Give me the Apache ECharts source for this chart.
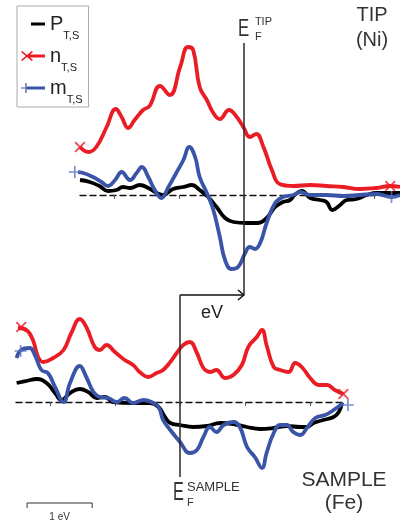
<!DOCTYPE html>
<html><head><meta charset="utf-8">
<script src="https://cdn.jsdelivr.net/npm/echarts@6/dist/echarts.min.js"></script>
<style>html,body{margin:0;padding:0;background:#fff}#c{width:400px;height:526px}</style>
</head><body><div id="c"></div>
<script>
// ---------- DATA (energy in eV relative to E_F, signal in arbitrary units) ----------
const tickValues = [-2, -1, 0, 1, 2];
const seriesNames = ['P', 'n', 'm'];
const subscriptText = 'T,S';
const scaleBarEV = [-2.35, -1.35];   // 1 eV scale bar, bottom panel

// TIP (Ni) panel
const tipP = [[-2.52,1.5],[-2.37,1.3],[-2.22,0.9],[-2.09,0.4],[-1.96,0.5],[-1.86,0.8],[-1.75,0.7],[-1.6,1.0],[-1.47,0.7],[-1.34,0.2],[-1.24,0],[-1.09,0.6],[-0.93,0.8],[-0.8,1.0],[-0.68,0.5],[-0.55,-0.2],[-0.42,-1.2],[-0.29,-2.3],[-0.16,-2.7],[0.04,-2.8],[0.22,-2.8],[0.35,-2.3],[0.48,-1.2],[0.6,-0.7],[0.71,-0.5],[0.78,0],[0.89,0.4],[1.02,-0.3],[1.17,-0.5],[1.27,-0.7],[1.36,-1.5],[1.48,-1.0],[1.58,-0.5],[1.73,-0.4],[1.89,0],[2.04,0.2],[2.25,0.2],[2.4,0.2]];
const tipN = [[-2.52,4.8],[-2.39,4.3],[-2.27,4.8],[-2.11,6.8],[-1.97,8.6],[-1.88,7.8],[-1.78,6.7],[-1.68,7.5],[-1.55,8.5],[-1.45,8.9],[-1.29,10.9],[-1.14,10.0],[-0.98,12.8],[-0.86,14.8],[-0.78,14.5],[-0.68,10.8],[-0.57,9.5],[-0.47,8.2],[-0.37,7.6],[-0.23,8.5],[-0.11,7.8],[0.0,6.7],[0.09,5.8],[0.19,6.1],[0.30,4.8],[0.43,2.5],[0.55,1.1],[0.76,0.9],[1.02,1.0],[1.27,0.9],[1.53,0.8],[1.78,0.6],[2.04,0.7],[2.25,0.9],[2.4,0.8]];
const tipM = [[-2.6,2.3],[-2.47,2.2],[-2.32,1.8],[-2.19,1.3],[-2.09,0.9],[-1.98,1.5],[-1.88,2.3],[-1.75,1.5],[-1.65,2.2],[-1.57,2.8],[-1.47,1.8],[-1.37,0.5],[-1.27,-0.3],[-1.16,0.8],[-1.04,2.2],[-0.93,3.5],[-0.84,4.8],[-0.75,3.8],[-0.68,1.8],[-0.57,0.2],[-0.47,-1.5],[-0.37,-4.2],[-0.29,-6.5],[-0.19,-7.4],[-0.09,-7.2],[0.02,-5.8],[0.09,-5.2],[0.17,-5.4],[0.25,-4.8],[0.35,-2.8],[0.48,-0.8],[0.6,-0.2],[0.76,0],[0.86,0.3],[1.02,0],[1.27,0],[1.53,-0.1],[1.78,0],[2.04,0.1],[2.27,-0.2],[2.4,0]];
const tipNMarkers = [[-2.52,4.8],[2.25,0.9]];
const tipMMarkers = [[-2.6,2.3],[2.27,-0.2]];

// SAMPLE (Fe) panel
const sampleP = [[-2.51,1.9],[-2.36,2.1],[-2.2,2.3],[-2.05,1.9],[-1.92,0.9],[-1.82,0.2],[-1.69,0.9],[-1.54,1.3],[-1.41,1.0],[-1.28,0.4],[-1.15,0.5],[-1.03,0],[-0.72,-0.1],[-0.46,-0.1],[-0.33,-0.5],[-0.23,-1.5],[-0.15,-2.1],[0,-2.3],[0.2,-2.5],[0.41,-2.4],[0.62,-2.1],[0.82,-2.2],[1.03,-2.5],[1.23,-2.7],[1.44,-2.6],[1.64,-2.4],[1.85,-2.5],[1.95,-2.5],[2.05,-2.1],[2.2,-1.8],[2.36,-1.5],[2.44,-1.0],[2.49,-0.1]];
const sampleN = [[-2.49,7.4],[-2.36,7.2],[-2.26,6.2],[-2.18,4.5],[-2.1,4.0],[-1.95,4.4],[-1.79,5.2],[-1.67,6.9],[-1.54,8.3],[-1.44,7.5],[-1.31,5.5],[-1.23,5.2],[-1.13,5.7],[-1.0,5.0],[-0.85,4.2],[-0.72,3.7],[-0.62,3.0],[-0.49,2.5],[-0.36,2.9],[-0.26,3.2],[-0.15,4.0],[-0.05,4.9],[0.05,5.7],[0.15,6.0],[0.26,4.9],[0.36,3.4],[0.46,3.0],[0.56,3.2],[0.69,2.4],[0.82,2.7],[0.95,3.7],[1.05,5.5],[1.18,6.5],[1.26,7.2],[1.33,5.7],[1.44,3.5],[1.54,3.2],[1.67,3.0],[1.77,3.9],[1.87,3.5],[2.0,2.4],[2.13,1.7],[2.26,1.7],[2.38,1.2],[2.51,0.8]];
const sampleM = [[-2.51,4.4],[-2.44,5.2],[-2.31,5.4],[-2.23,4.7],[-2.13,3.2],[-2.03,2.9],[-1.92,1.5],[-1.79,0],[-1.69,1.9],[-1.54,3.6],[-1.44,2.5],[-1.33,1.0],[-1.23,0.5],[-1.1,0.4],[-0.97,0],[-0.85,0.4],[-0.72,-0.1],[-0.56,0.2],[-0.44,0],[-0.33,-0.5],[-0.26,-1.8],[-0.15,-2.8],[0.0,-4.0],[0.15,-5.1],[0.26,-4.8],[0.36,-3.5],[0.46,-2.5],[0.56,-3.0],[0.67,-2.3],[0.82,-2.0],[0.92,-2.5],[1.03,-4.5],[1.15,-5.5],[1.26,-6.6],[1.33,-5.1],[1.44,-3.1],[1.54,-2.3],[1.64,-2.3],[1.74,-3.0],[1.85,-3.3],[1.95,-2.6],[2.08,-1.6],[2.23,-1.3],[2.36,-0.8],[2.51,-0.1]];
const sampleNMarkers = [[-2.44,7.5],[2.51,0.8]];
const sampleMMarkers = [[-2.45,5.1],[2.58,-0.3]];

// axis ranges
const TOP_X = [-2.52, 2.4], TOP_Y = [-10, 15.2];
const BOT_X = [-2.52, 2.52], BOT_Y = [-7.5, 10.7];

// ---------- STYLE ----------
const FONT = "'Liberation Sans', Arial, sans-serif";
const RED = '#ea1d25', BLUE = '#3a55a8', BLACK = '#000000', PLUSC = '#5a72c0', TXT = '#333333';
const CLEAR = 'rgba(0,0,0,0)';
const X_PATH = 'path://M0,1.2L1.2,0L5,3.8L8.8,0L10,1.2L6.2,5L10,8.8L8.8,10L5,6.2L1.2,10L0,8.8L3.8,5Z';
const PLUS_PATH = 'path://M4.3,0L5.7,0L5.7,4.3L10,4.3L10,5.7L5.7,5.7L5.7,10L4.3,10L4.3,5.7L0,5.7L0,4.3L4.3,4.3Z';
const ICON_P = 'path://M0,0L0.01,0L0,0.01ZM24,10L23.99,10L24,9.99ZM10,3.4L24,3.4L24,6.6L10,6.6Z';
const ICON_N = 'path://M24,10L23.99,10L24,9.99ZM0,1L1.2,0L6,4L10.8,0L12,1L7.2,5L12,9L10.8,10L6,6L1.2,10L0,9L4.8,5ZM6,3.6L24,3.6L24,6.4L6,6.4Z';
const ICON_M = 'path://M24,10L23.99,10L24,9.99ZM4.4,0L5.6,0L5.6,4.4L10,4.4L10,5.6L5.6,5.6L5.6,10L4.4,10L4.4,5.6L0,5.6L0,4.4L4.4,4.4ZM6,3.6L24,3.6L24,6.4L6,6.4Z';

const chart = echarts.init(document.getElementById('c'), null, {renderer: 'canvas'});

function xAxisCfg(gi, range) {
  return {
    type: 'value', gridIndex: gi, min: range[0], max: range[1],
    axisLine: {show: true, onZero: true, lineStyle: {color: '#111', width: 1.4, type: [6, 4]}},
    axisTick: {show: true, length: 4, customValues: tickValues, lineStyle: {color: '#555', width: 1}},
    axisLabel: {show: false}, splitLine: {show: false}
  };
}
function yAxisCfg(gi, range) {
  return {type: 'value', gridIndex: gi, min: range[0], max: range[1], show: false, splitLine: {show: false}};
}
const vline = {
  silent: true, symbol: ['none', 'none'], label: {show: false}, emphasis: {disabled: true},
  lineStyle: {color: '#2a2a2a', width: 1.5, type: 'solid'}, data: [{xAxis: 0}]
};
function lineS(name, data, color, gi, extra) {
  return Object.assign({
    type: 'line', name, data, xAxisIndex: gi, yAxisIndex: gi, smooth: 0.45, symbol: 'none',
    clip: false, silent: true, lineStyle: {color, width: 3.8}, itemStyle: {color},
    emphasis: {disabled: true}
  }, extra || {});
}
function markS(name, data, path, size, color, gi) {
  return {type: 'scatter', name, data, xAxisIndex: gi, yAxisIndex: gi, symbol: path, symbolSize: size,
    clip: false, silent: true, itemStyle: {color}, emphasis: {disabled: true}, z: 5};
}

// two stacked legends: main symbols + subscripts (same layout, second shifted down)
const richBase = {
  m: {fontSize: 20, fontFamily: FONT, color: '#222', lineHeight: 24},
  mh: {fontSize: 20, fontFamily: FONT, color: CLEAR, lineHeight: 24},
  s: {fontSize: 11, fontFamily: FONT, color: '#222', lineHeight: 24},
  sh: {fontSize: 11, fontFamily: FONT, color: CLEAR, lineHeight: 24}
};
function legendCfg(top, main, sub, icons, bordered) {
  return {
    orient: 'vertical', left: 17, top, padding: [6, 6, 7, 4], itemGap: 8,
    itemWidth: 24, itemHeight: 10, selectedMode: false,
    borderColor: bordered ? '#aaaaaa' : CLEAR, borderWidth: bordered ? 1 : 0,
    backgroundColor: bordered ? '#fff' : CLEAR,
    data: [
      {name: seriesNames[0], icon: ICON_P, itemStyle: {color: icons ? BLACK : CLEAR}},
      {name: seriesNames[1], icon: ICON_N, itemStyle: {color: icons ? RED : CLEAR}},
      {name: seriesNames[2], icon: ICON_M, itemStyle: {color: icons ? BLUE : CLEAR}}
    ],
    formatter: n => '{' + main + '|' + n + '}{' + sub + '|' + subscriptText + '}',
    textStyle: {color: '#222', lineHeight: 24, rich: richBase}
  };
}

chart.setOption({
  animation: false,
  backgroundColor: '#fff',
  grid: [
    {left: 80, top: 43, width: 320, height: 252},
    {left: 16, top: 295, width: 328, height: 182}
  ],
  xAxis: [xAxisCfg(0, TOP_X), xAxisCfg(1, BOT_X)],
  yAxis: [yAxisCfg(0, TOP_Y), yAxisCfg(1, BOT_Y)],
  legend: [
    legendCfg(6, 'm', 'sh', true, true),
    legendCfg(18, 'mh', 's', false, false)
  ],
  series: [
    lineS(seriesNames[0], tipP, BLACK, 0, {markLine: vline}),
    lineS(seriesNames[1], tipN, RED, 0),
    lineS(seriesNames[2], tipM, BLUE, 0),
    lineS(seriesNames[0], sampleP, BLACK, 1, {markLine: vline}),
    lineS(seriesNames[1], sampleN, RED, 1),
    lineS(seriesNames[2], sampleM, BLUE, 1),
    markS(seriesNames[1], tipNMarkers, X_PATH, 11, RED, 0),
    markS(seriesNames[2], tipMMarkers, PLUS_PATH, 12, PLUSC, 0),
    markS(seriesNames[1], sampleNMarkers, X_PATH, 11, RED, 1),
    markS(seriesNames[2], sampleMMarkers, PLUS_PATH, 12, PLUSC, 1)
  ]
});

// ---------- annotations positioned from the axes ----------
const tipEF = chart.convertToPixel({gridIndex: 0}, [0, TOP_Y[0]]);      // bottom end of E_F(tip) line
const tipEFtop = chart.convertToPixel({gridIndex: 0}, [0, TOP_Y[1]]);
const smpEF = chart.convertToPixel({gridIndex: 1}, [0, BOT_Y[1]]);      // top end of E_F(sample) line
const smpEFbot = chart.convertToPixel({gridIndex: 1}, [0, BOT_Y[0]]);
const sb0 = chart.convertToPixel({gridIndex: 1}, [scaleBarEV[0], 0]);
const sb1 = chart.convertToPixel({gridIndex: 1}, [scaleBarEV[1], 0]);

function txt(x, y, text, size, align, extra, fill) {
  return Object.assign({
    type: 'text', x, y, silent: true,
    style: {text, fill: fill || TXT, fontSize: size, fontFamily: FONT, align: align || 'left', verticalAlign: 'middle',
      textAlign: align || 'left', textVerticalAlign: 'middle'}
  }, extra || {});
}
const sbY = 503;
chart.setOption({
  graphic: [
    // eV arrow between the two Fermi levels
    {type: 'polyline', silent: true, shape: {points: [[smpEF[0], smpEF[1]], [tipEF[0], tipEF[1]]]},
      style: {stroke: '#111', lineWidth: 1.5, fill: null}},
    {type: 'polyline', silent: true, shape: {points: [[tipEF[0] - 6, tipEF[1] - 5], [tipEF[0], tipEF[1]], [tipEF[0] - 6, tipEF[1] + 5]]},
      style: {stroke: '#111', lineWidth: 1.5, fill: null}},
    txt((smpEF[0] + tipEF[0]) / 2, tipEF[1] + 18, 'eV', 18, 'center', null, '#222'),
    // E_F^TIP
    txt(tipEFtop[0] - 6, tipEFtop[1] - 13.5, 'E', 24, 'left', {scaleX: 0.7}),
    txt(tipEFtop[0] + 11, tipEFtop[1] - 21.5, 'TIP', 11),
    txt(tipEFtop[0] + 11, tipEFtop[1] - 6, 'F', 11),
    // E_F^SAMPLE
    txt(smpEFbot[0] - 7, smpEFbot[1] + 16, 'E', 25, 'left', {scaleX: 0.65}),
    txt(smpEFbot[0] + 7, smpEFbot[1] + 10, 'SAMPLE', 13),
    txt(smpEFbot[0] + 7, smpEFbot[1] + 26, 'F', 11),
    // panel labels
    txt(372, 15, 'TIP', 20, 'center'),
    txt(372, 40, '(Ni)', 20, 'center'),
    txt(344, 480, 'SAMPLE', 21, 'center'),
    txt(344, 503, '(Fe)', 21, 'center'),
    // 1 eV scale bar
    {type: 'polyline', silent: true, shape: {points: [[sb0[0], sbY + 5], [sb0[0], sbY], [sb1[0], sbY], [sb1[0], sbY + 5]]},
      style: {stroke: '#333', lineWidth: 1, fill: null}},
    txt((sb0[0] + sb1[0]) / 2, sbY + 14, '1 eV', 10, 'center')
  ]
});
</script>
</body></html>
